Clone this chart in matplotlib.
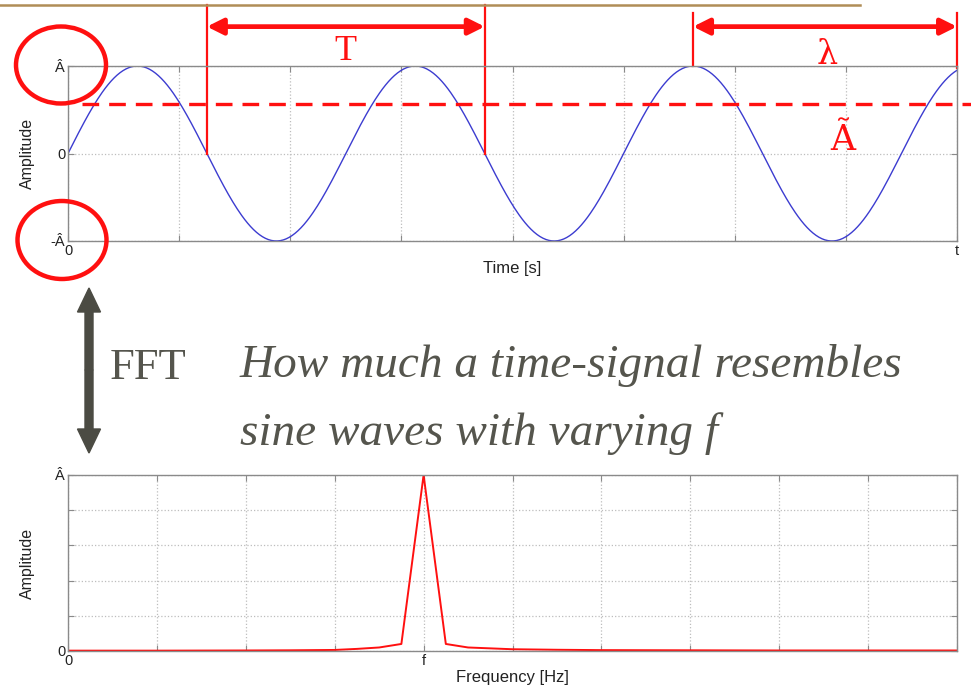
import numpy as np
import matplotlib.pyplot as plt
from matplotlib.patches import Ellipse, FancyArrow

# signal: amplitude 1, 3.2 periods over 8 grid units
amplitude = 1.0
signal_freq = 0.4
t_end = 8.0
t_ticks = [0, 1, 2, 3, 4, 5, 6, 7, 8]
t_ticklabels = ['0', '', '', '', '', '', '', '', 't']
a_ticks = [-1, 0, 1]
a_ticklabels = ['-Â', '0', 'Â']
rms_level = 0.57

# spectrum
freq = [0, 1, 2, 2.5, 3, 3.25, 3.5, 3.75, 4, 4.25, 4.5, 4.75, 5, 5.5, 6, 7, 8, 9, 10]
amp = [0.002, 0.002, 0.003, 0.004, 0.006, 0.012, 0.02, 0.04, 1.0, 0.04, 0.02,
       0.015, 0.01, 0.007, 0.005, 0.004, 0.003, 0.003, 0.003]
f_ticks = list(range(11))
f_ticklabels = ['0', '', '', '', 'f', '', '', '', '', '', '']
s_ticks = [0, 0.2, 0.4, 0.6, 0.8, 1.0]
s_ticklabels = ['0', '', '', '', '', 'Â']

# annotation positions (time units)
t_zero1, t_zero2 = 1.25, 3.75
t_peak = 5.625

W, H = 971, 689
fig = plt.figure(figsize=(W / 100, H / 100), dpi=100, facecolor='white')

red = '#ff1010'
grey = '#8a8a8a'
textgrey = '#55554d'
labelcol = '#222222'
sans = 'Liberation Sans'


def style_axes(ax):
    for s in ax.spines.values():
        s.set_color(grey)
        s.set_linewidth(1.0)
    ax.grid(True, linestyle=':', color='#bdbdbd', linewidth=0.9)
    ax.tick_params(direction='in', length=4, color=grey, top=True, right=True,
                   labelsize=10.5, labelcolor=labelcol, pad=2)
    for lab in ax.get_xticklabels() + ax.get_yticklabels():
        lab.set_family(sans)


# top: time signal
ax1 = fig.add_axes([68 / W, 1 - 241 / H, 889 / W, 175 / H])
t = np.linspace(0, t_end, 600)
ax1.plot(t, amplitude * np.sin(2 * np.pi * signal_freq * t), color='#3c3cd0', lw=1.0)
ax1.set_xlim(0, t_end)
ax1.set_ylim(-1, 1)
ax1.set_xticks(t_ticks)
ax1.set_xticklabels(t_ticklabels)
ax1.set_yticks(a_ticks)
ax1.set_yticklabels(a_ticklabels)
style_axes(ax1)
ax1.set_xlabel('Time [s]', family=sans, fontsize=12, color=labelcol, va='center')
ax1.xaxis.set_label_coords(0.5, -0.155)
ax1.set_ylabel('Amplitude', family=sans, fontsize=11.5, color=labelcol)
ax1.yaxis.set_label_coords(-0.037, 0.5)

# RMS dashed line, extends past the plot
ax1.plot([0.13, 8.13], [rms_level, rms_level], color=red, lw=2.4,
         linestyle=(0, (5, 3)), clip_on=False)

# period T
for tz in (t_zero1, t_zero2):
    ax1.plot([tz, tz], [0, 1.70], color=red, lw=1.6, clip_on=False)
ax1.annotate('', xy=(t_zero1, 1.45), xytext=(t_zero2, 1.45),
             arrowprops=dict(arrowstyle='<|-|>', color=red, lw=3.4, mutation_scale=24,
                             shrinkA=0, shrinkB=0), annotation_clip=False)
ax1.text((t_zero1 + t_zero2) / 2, 1.16, 'T', color=red, fontsize=26,
         family='Liberation Serif', ha='center', va='center')

# wavelength
ax1.plot([t_peak, t_peak], [1.0, 1.61], color=red, lw=1.6, clip_on=False)
ax1.plot([t_end, t_end], [0.98, 1.61], color=red, lw=1.6, clip_on=False)
ax1.annotate('', xy=(t_peak, 1.45), xytext=(t_end, 1.45),
             arrowprops=dict(arrowstyle='<|-|>', color=red, lw=3.4, mutation_scale=24,
                             shrinkA=0, shrinkB=0), annotation_clip=False)
ax1.text(6.83, 1.12, 'λ', color=red, fontsize=24, family='DejaVu Serif',
         ha='center', va='center')
ax1.text(6.97, 0.16, 'Ã', color=red, fontsize=25, family='DejaVu Serif',
         ha='center', va='center')

# bottom: spectrum
ax2 = fig.add_axes([68 / W, 1 - 651 / H, 889 / W, 176 / H])
ax2.plot(freq, amp, color=red, lw=1.4)
ax2.set_xlim(0, 10)
ax2.set_ylim(0, 1)
ax2.set_xticks(f_ticks)
ax2.set_xticklabels(f_ticklabels)
ax2.set_yticks(s_ticks)
ax2.set_yticklabels(s_ticklabels)
style_axes(ax2)
ax2.set_xlabel('Frequency [Hz]', family=sans, fontsize=12, color=labelcol, va='center')
ax2.xaxis.set_label_coords(0.5, -0.153)
ax2.set_ylabel('Amplitude', family=sans, fontsize=11.5, color=labelcol)
ax2.yaxis.set_label_coords(-0.037, 0.5)

# overlay in pixel coordinates for slide decorations
ov = fig.add_axes([0, 0, 1, 1], zorder=10)
ov.set_xlim(0, W)
ov.set_ylim(H, 0)
ov.axis('off')
ov.patch.set_alpha(0)

ov.plot([0, 860], [5, 5], color='#b08d57', lw=1.8)
ov.add_patch(Ellipse((61, 65), 90, 77, fill=False, edgecolor=red, lw=3.2))
ov.add_patch(Ellipse((62, 240), 89, 78, fill=False, edgecolor=red, lw=3.2))

arrow_col = '#4b4b43'
ov.add_patch(FancyArrow(89, 370, 0, -82, width=8, head_width=23, head_length=24,
                        length_includes_head=True, color=arrow_col))
ov.add_patch(FancyArrow(89, 370, 0, 83, width=8, head_width=23, head_length=24,
                        length_includes_head=True, color=arrow_col))
ov.text(110, 368, 'FFT', family='Liberation Serif', fontsize=32, color=textgrey,
        ha='left', va='center')

ov.text(240, 377, 'How much a time-signal resembles', family='Liberation Serif',
        style='italic', fontsize=34, color=textgrey, ha='left', va='baseline')
ov.text(240, 445, 'sine waves with varying f', family='Liberation Serif',
        style='italic', fontsize=34, color=textgrey, ha='left', va='baseline')

fig.savefig('out.png', dpi=100)
